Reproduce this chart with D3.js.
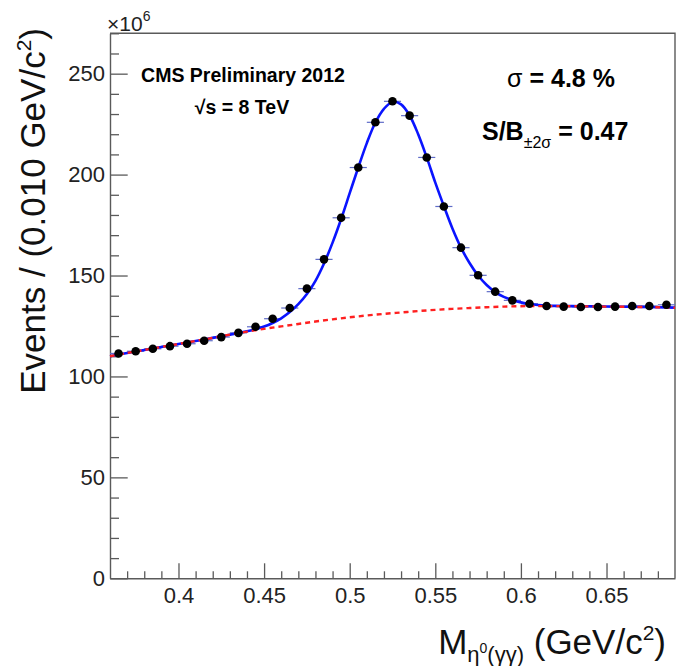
<!DOCTYPE html>
<html>
<head>
<meta charset="utf-8">
<script src="https://cdn.jsdelivr.net/npm/d3@7"></script>
<style>
  body { margin: 0; background: #fff; }
  svg { font-family: "Liberation Sans", Arial, Helvetica, sans-serif; }
</style>
</head>
<body>
<div id="graph"></div>
<script>

// bin centres (GeV/c^2) and events per bin (x10^6)
const binCenters = [0.365, 0.375, 0.385, 0.395, 0.405, 0.415, 0.425, 0.435, 0.445, 0.455, 0.465,
    0.475, 0.485, 0.495, 0.505, 0.515, 0.525, 0.535, 0.545, 0.555, 0.565, 0.575,
    0.585, 0.595, 0.605, 0.615, 0.625, 0.635, 0.645, 0.655, 0.665, 0.675, 0.685];
const counts = [111.4, 112.5, 113.7, 115.0, 116.2, 117.7, 119.5, 121.6, 124.6, 128.6, 133.9,
    143.5, 158.0, 178.6, 203.5, 225.9, 236.3, 229.2, 208.5, 184.2, 163.8, 150.1,
    142.0, 137.7, 136.0, 134.9, 134.6, 134.4, 134.4, 134.6, 134.9, 134.9, 135.5];

// signal + background fit (blue)
const fitX = [0.36, 0.37, 0.38, 0.39, 0.40, 0.41, 0.42, 0.43,
    0.44, 0.445, 0.45, 0.455, 0.46, 0.465, 0.47, 0.475, 0.48, 0.485, 0.49, 0.495,
    0.50, 0.505, 0.51, 0.515, 0.52, 0.525, 0.53, 0.535, 0.54, 0.545, 0.55, 0.555,
    0.56, 0.565, 0.57, 0.575, 0.58, 0.585, 0.59, 0.595, 0.60, 0.605, 0.61, 0.615,
    0.62, 0.63, 0.64, 0.65, 0.66, 0.67, 0.68, 0.69];
const fitY = [110.0, 111.6, 113.1, 114.6, 116.1, 117.6, 119.1, 120.7,
    122.4, 123.4, 124.7, 126.5, 128.8, 131.9, 135.8, 140.8, 147.4, 156.0, 166.3, 178.0,
    190.8, 203.5, 215.6, 225.8, 232.6, 236.0, 234.8, 229.3, 220.0, 208.5, 196.0, 184.4,
    173.3, 163.8, 156.2, 150.0, 145.3, 141.8, 139.4, 137.8, 136.7, 135.9, 135.4, 135.1,
    134.95, 134.85, 134.75, 134.65, 134.55, 134.45, 134.3, 134.1];

// background only (red dashed)
const bkgX = [0.36, 0.37, 0.38, 0.39, 0.40, 0.41, 0.42, 0.43, 0.44, 0.45, 0.46, 0.47,
    0.48, 0.49, 0.50, 0.51, 0.52, 0.53, 0.54, 0.55, 0.56, 0.57, 0.58, 0.59,
    0.60, 0.61, 0.62, 0.63, 0.64, 0.65, 0.66, 0.67, 0.68, 0.69];
const bkgY = [110.0, 111.6, 113.1, 114.6, 116.1, 117.6, 119.1, 120.7, 122.2, 123.6, 124.8, 126.0,
    127.2, 128.3, 129.3, 130.2, 131.0, 131.7, 132.4, 133.0, 133.5, 133.9, 134.3, 134.6,
    134.8, 134.85, 134.85, 134.8, 134.7, 134.6, 134.5, 134.4, 134.25, 134.05];

const xTicks = [0.4, 0.45, 0.5, 0.55, 0.6, 0.65];
const xTickLabels = ["0.4", "0.45", "0.5", "0.55", "0.6", "0.65"];
const yTicks = [0, 50, 100, 150, 200, 250];
const yTickLabels = ["0", "50", "100", "150", "200", "250"];

const binWidth = 0.01;

const width = 678;
const height = 666;
const frameLeft = 110, frameRight = 675, frameTop = 33.3, frameBottom = 578.3;

const xScale = d3.scaleLinear().domain([0.36, 0.69]).range([frameLeft, frameRight]);
const yScale = d3.scaleLinear().domain([0, 270]).range([frameBottom, frameTop]);

const svg = d3.select("#graph")
    .append("svg")
    .attr("width", width)
    .attr("height", height);

const axisColor = "#5a5a5a";

// minor ticks
const xMinor = d3.range(37, 69).map((i) => i / 100).filter((v) => !xTicks.some((t) => Math.abs(t - v) < 1e-6));
const yMinor = d3.range(0, 271, 10).filter((v) => v % 50 !== 0);

svg.append("g")
    .attr("transform", "translate(0," + frameBottom + ")")
    .call(d3.axisBottom(xScale).tickValues(xMinor).tickSize(-7).tickFormat(""))
    .call((g) => g.select(".domain").remove());

svg.append("g")
    .attr("transform", "translate(" + frameLeft + ",0)")
    .call(d3.axisLeft(yScale).tickValues(yMinor).tickSize(-9).tickFormat(""))
    .call((g) => g.select(".domain").remove());

svg.append("g")
    .attr("id", "x-axis")
    .attr("transform", "translate(0," + frameBottom + ")")
    .call(d3.axisBottom(xScale)
        .tickValues(xTicks)
        .tickSize(-15)
        .tickSizeOuter(0)
        .tickPadding(9.5)
        .tickFormat((d, i) => xTickLabels[i]));

svg.append("g")
    .attr("id", "y-axis")
    .attr("transform", "translate(" + frameLeft + ",0)")
    .call(d3.axisLeft(yScale)
        .tickValues(yTicks)
        .tickSize(-17.7)
        .tickSizeOuter(0)
        .tickPadding(5)
        .tickFormat((d, i) => yTickLabels[i]));

svg.selectAll(".tick line").attr("stroke", axisColor).attr("stroke-width", 1.3);
svg.selectAll(".domain").attr("stroke", axisColor).attr("stroke-width", 1.4);
svg.selectAll(".tick text")
    .attr("font-size", 22)
    .attr("fill", "#222")
    .attr("font-family", "Liberation Sans, Arial, sans-serif");

// frame top and right
svg.append("path")
    .attr("d", "M" + frameLeft + "," + frameTop + "H" + frameRight + "V" + frameBottom)
    .attr("fill", "none")
    .attr("stroke", axisColor)
    .attr("stroke-width", 1.4);

// fit curves
const fitLine = d3.line()
    .x((d, i) => xScale(fitX[i]))
    .y((d) => yScale(d))
    .curve(d3.curveCatmullRom.alpha(0.5));

const bkgLine = d3.line()
    .x((d, i) => xScale(bkgX[i]))
    .y((d) => yScale(d))
    .curve(d3.curveCatmullRom.alpha(0.5));

// error bars along x (bin width)
svg.selectAll("line.xerr")
    .data(counts)
    .enter()
    .append("line")
    .attr("class", "xerr")
    .attr("x1", (d, i) => xScale(binCenters[i] - binWidth / 2))
    .attr("x2", (d, i) => xScale(binCenters[i] + binWidth / 2))
    .attr("y1", (d) => yScale(d))
    .attr("y2", (d) => yScale(d))
    .attr("stroke", "#5f6cc8")
    .attr("stroke-width", 1.2);

svg.append("path")
    .datum(fitY)
    .attr("d", fitLine)
    .attr("fill", "none")
    .attr("stroke", "#0a14ff")
    .attr("stroke-width", 2.6);

svg.append("path")
    .datum(bkgY)
    .attr("d", bkgLine)
    .attr("fill", "none")
    .attr("stroke", "#ff2020")
    .attr("stroke-width", 2.4)
    .attr("stroke-dasharray", "5,4");

svg.selectAll("circle.pt")
    .data(counts)
    .enter()
    .append("circle")
    .attr("class", "pt")
    .attr("cx", (d, i) => xScale(binCenters[i]))
    .attr("cy", (d) => yScale(d))
    .attr("r", 4.3)
    .attr("fill", "#000");

// x10^6 multiplier
const mult = svg.append("text")
    .attr("x", 107)
    .attr("y", 31)
    .attr("font-size", 21)
    .attr("fill", "#222");
mult.append("tspan").text("×10");
mult.append("tspan").attr("font-size", 14).attr("dy", -10).text("6");

// axis titles
const xTitle = svg.append("text")
    .attr("x", 666)
    .attr("y", 654)
    .attr("text-anchor", "end")
    .attr("font-size", 35)
    .attr("fill", "#111");
xTitle.append("tspan").text("M");
xTitle.append("tspan").attr("font-size", 22).attr("dy", 8).text("η");
xTitle.append("tspan").attr("font-size", 14).attr("dy", -9).text("0");
xTitle.append("tspan").attr("font-size", 22).attr("dy", 9).text("(γγ)");
xTitle.append("tspan").attr("dy", -8).text(" (GeV/c");
xTitle.append("tspan").attr("font-size", 21).attr("dy", -14).text("2");
xTitle.append("tspan").attr("dy", 14).text(")");

const yTitle = svg.append("text")
    .attr("transform", "translate(45,28) rotate(-90)")
    .attr("text-anchor", "end")
    .attr("font-size", 35)
    .attr("fill", "#111");
yTitle.append("tspan").text("Events / (0.010 GeV/c");
yTitle.append("tspan").attr("font-size", 21).attr("dy", -14).text("2");
yTitle.append("tspan").attr("dy", 14).text(")");

// annotations
svg.append("text")
    .attr("x", 243)
    .attr("y", 81.5)
    .attr("text-anchor", "middle")
    .attr("font-size", 19.5)
    .attr("font-weight", "bold")
    .text("CMS Preliminary 2012");

svg.append("text")
    .attr("x", 242)
    .attr("y", 113.5)
    .attr("text-anchor", "middle")
    .attr("font-size", 19.5)
    .attr("font-weight", "bold")
    .text("√s = 8 TeV");

const sigma = svg.append("text")
    .attr("x", 561)
    .attr("y", 86.5)
    .attr("text-anchor", "middle")
    .attr("font-size", 25)
    .attr("font-weight", "bold");
sigma.append("tspan").attr("font-weight", "normal").text("σ");
sigma.append("tspan").text(" = 4.8 %");

const sb = svg.append("text")
    .attr("x", 482)
    .attr("y", 140)
    .attr("font-size", 25)
    .attr("font-weight", "bold");
sb.append("tspan").text("S/B");
sb.append("tspan").attr("font-size", 16).attr("font-weight", "normal").attr("dy", 8).text("±2σ");
sb.append("tspan").attr("dy", -8).text(" = 0.47");

</script>
</body>
</html>
